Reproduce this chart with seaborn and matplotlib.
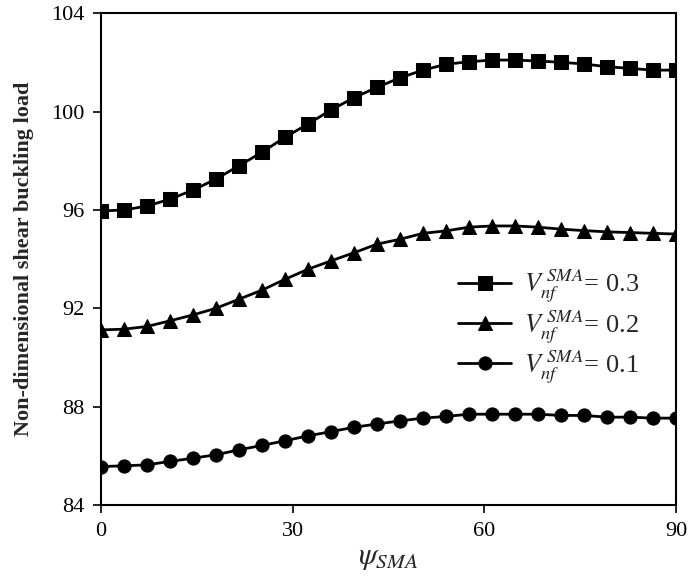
import matplotlib
matplotlib.use("Agg")
import matplotlib.pyplot as plt
import seaborn as sns
import numpy as np
import pandas as pd

psi = [0, 3.6, 7.2, 10.8, 14.4, 18, 21.6, 25.2, 28.8, 32.4, 36, 39.6, 43.2,
       46.8, 50.4, 54, 57.6, 61.2, 64.8, 68.4, 72, 75.6, 79.2, 82.8, 86.4, 90]

v03 = [95.96, 96.00, 96.16, 96.44, 96.81, 97.26, 97.80, 98.35, 98.96, 99.50,
       100.07, 100.57, 100.99, 101.38, 101.69, 101.93, 102.03, 102.10, 102.10,
       102.06, 102.01, 101.94, 101.83, 101.76, 101.69, 101.69]
v02 = [91.12, 91.15, 91.26, 91.49, 91.73, 92.00, 92.37, 92.74, 93.18, 93.59,
       93.93, 94.26, 94.61, 94.81, 95.05, 95.15, 95.30, 95.35, 95.35, 95.30,
       95.22, 95.16, 95.11, 95.08, 95.05, 95.02]
v01 = [85.56, 85.59, 85.63, 85.77, 85.90, 86.04, 86.24, 86.42, 86.61, 86.81,
       86.98, 87.16, 87.29, 87.42, 87.53, 87.60, 87.69, 87.69, 87.69, 87.69,
       87.64, 87.64, 87.57, 87.57, 87.53, 87.53]

labels = [r'$V_{nf}^{\;SMA}$= 0.3', r'$V_{nf}^{\;SMA}$= 0.2', r'$V_{nf}^{\;SMA}$= 0.1']
markers = ['s', '^', 'o']
series = [v03, v02, v01]

xticks = [0, 30, 60, 90]
yticks = [84, 88, 92, 96, 100, 104]

sns.set_theme(style="ticks")
plt.rcParams['font.family'] = ['Liberation Serif', 'DejaVu Serif']
plt.rcParams['mathtext.fontset'] = 'stix'

fig = plt.figure(figsize=(6.92, 5.81), dpi=100)
ax = fig.add_axes([0.146, 0.131, 0.831, 0.846])

for vals, lab, mk in zip(series, labels, markers):
    df = pd.DataFrame({'psi': psi, 'val': vals})
    sns.lineplot(data=df, x='psi', y='val', ax=ax, color='black', linewidth=2.0,
                 marker=mk, markersize=9.5 if mk != '^' else 10,
                 markeredgecolor='black', markerfacecolor='black', label=lab)

ax.set_xlim(0, 90)
ax.set_ylim(84, 104)
ax.set_xticks(xticks)
ax.set_yticks(yticks)
ax.tick_params(axis='both', direction='out', length=6, width=1.2, labelsize=16,
               colors='black', pad=6)
for sp in ax.spines.values():
    sp.set_visible(True)
    sp.set_linewidth(1.5)
    sp.set_color('black')

ax.set_xlabel(r'$\psi_{SMA}$', fontsize=22, labelpad=2)
ax.set_ylabel('Non-dimensional shear buckling load', fontsize=16,
              fontweight='bold', labelpad=12)

leg = ax.legend(loc='center left', bbox_to_anchor=(0.58, 0.362), frameon=False,
                fontsize=19, handlelength=2.0, labelspacing=0.12, handletextpad=0.5)

fig.savefig('out.png', dpi=100)
